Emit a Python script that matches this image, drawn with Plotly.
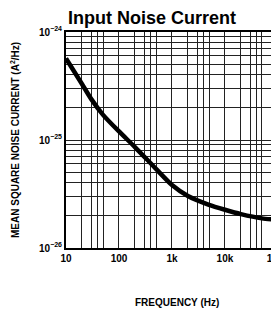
import plotly.graph_objects as go

# Data
freq_hz = [10, 20, 30, 50, 100, 200, 500, 1000, 2000, 5000, 10000, 20000, 50000, 100000]
noise_a2_per_hz = [5.7e-25, 3.3e-25, 2.39e-25, 1.71e-25, 1.2e-25, 8.6e-26, 5.4e-26,
                   3.83e-26, 3.03e-26, 2.51e-26, 2.26e-26, 2.06e-26, 1.88e-26, 1.82e-26]

x_grid = [10, 20, 30, 40, 50, 100, 200, 300, 400, 500, 1000, 2000, 3000, 4000, 5000,
          10000, 20000, 30000, 40000, 50000, 100000]
x_labels = {10: "10", 100: "100", 1000: "1k", 10000: "10k", 100000: "100k"}
y_grid = [m * 10.0 ** e for e in (-26, -25) for m in range(1, 10)] + [1e-24]
y_labels = {1e-26: "10<sup>−26</sup>", 1e-25: "10<sup>−25</sup>", 1e-24: "10<sup>−24</sup>"}

FONT = "Liberation Sans Narrow, Arial Narrow, Liberation Sans, Arial"

# The page body adds an 8 px offset, so the figure is sized/placed to compensate.
W, H = 271, 304
L, T, B = 58, 24, 64

fig = go.Figure()
fig.add_trace(go.Scatter(
    x=freq_hz, y=noise_a2_per_hz, mode="lines",
    line=dict(color="black", width=4.5, shape="spline", smoothing=0.6),
    hoverinfo="skip", showlegend=False))

def lbl(v, d):
    for k, s in d.items():
        if abs(v - k) / k < 1e-6:
            return "<b>" + s + "</b>"
    return ""

fig.update_xaxes(
    type="log", range=[1, 5.02], automargin=False,
    tickmode="array", tickvals=x_grid, ticktext=[lbl(v, x_labels) for v in x_grid],
    showgrid=True, gridcolor="#222", gridwidth=1,
    showline=True, linecolor="black", linewidth=2, mirror=True,
    ticks="", tickfont=dict(family=FONT, size=10, color="black"),
    ticklabeloverflow="allow", zeroline=False)
fig.update_yaxes(
    type="log", range=[-26, -24], automargin=False,
    tickmode="array", tickvals=y_grid, ticktext=[lbl(v, y_labels) for v in y_grid],
    showgrid=True, gridcolor="#222", gridwidth=1,
    showline=True, linecolor="black", linewidth=2, mirror=True,
    ticks="", tickfont=dict(family=FONT, size=10, color="black"),
    ticklabeloverflow="allow", zeroline=False)

pw = W - L
ph = H - T - B
fig.update_layout(
    width=W, height=H,
    margin=dict(l=L, r=0, t=T, b=B, autoexpand=False),
    paper_bgcolor="white", plot_bgcolor="white",
    title=dict(text="<b>Input Noise Current</b>", xref="container", x=144 / W, xanchor="center",
               yref="container", y=1 - 10 / H, yanchor="middle",
               font=dict(family="Liberation Sans, Arial", size=18, color="black")),
    annotations=[
        dict(text="<b>MEAN SQUARE NOISE CURRENT (A<sup>2</sup>/Hz)</b>", textangle=-90,
             xref="paper", yref="paper", x=(7 - L) / pw, y=0.5,
             xanchor="center", yanchor="middle", showarrow=False,
             font=dict(family=FONT, size=10, color="black")),
        dict(text="<b>FREQUENCY (Hz)</b>",
             xref="paper", yref="paper", x=(169 - L) / pw, y=(T + ph - 294) / ph,
             xanchor="center", yanchor="middle", showarrow=False,
             font=dict(family=FONT, size=10, color="black")),
    ],
)

fig.write_html("out.html")
